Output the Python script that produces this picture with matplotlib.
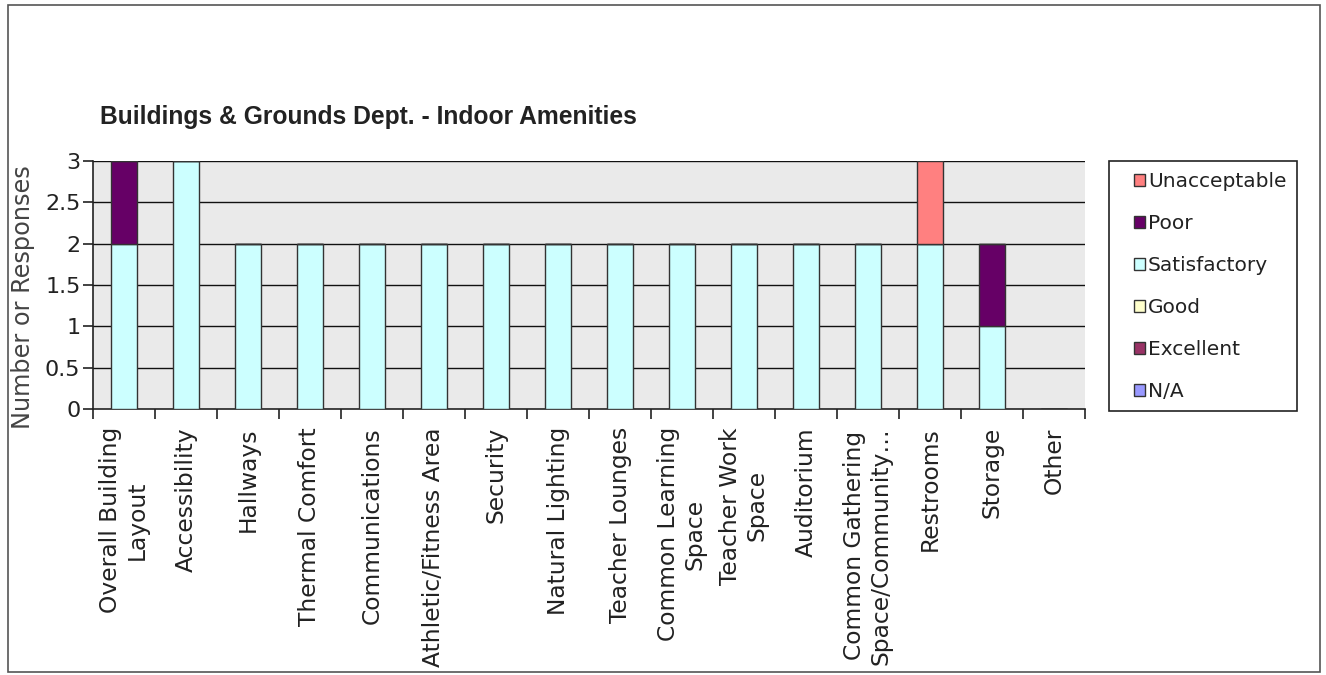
import matplotlib
matplotlib.use("Agg")
import matplotlib.pyplot as plt
import numpy as np
from matplotlib.patches import Rectangle

categories = ["Overall Building\nLayout", "Accessibility", "Hallways", "Thermal Comfort",
              "Communications", "Athletic/Fitness Area", "Security", "Natural Lighting",
              "Teacher Lounges", "Common Learning\nSpace", "Teacher Work\nSpace", "Auditorium",
              "Common Gathering\nSpace/Community…", "Restrooms", "Storage", "Other"]

na           = [0, 0, 0, 0, 0, 0, 0, 0, 0, 0, 0, 0, 0, 0, 0, 0]
excellent    = [0, 0, 0, 0, 0, 0, 0, 0, 0, 0, 0, 0, 0, 0, 0, 0]
good         = [0, 0, 0, 0, 0, 0, 0, 0, 0, 0, 0, 0, 0, 0, 0, 0]
satisfactory = [2, 3, 2, 2, 2, 2, 2, 2, 2, 2, 2, 2, 2, 2, 1, 0]
poor         = [1, 0, 0, 0, 0, 0, 0, 0, 0, 0, 0, 0, 0, 0, 1, 0]
unacceptable = [0, 0, 0, 0, 0, 0, 0, 0, 0, 0, 0, 0, 0, 1, 0, 0]

series_names = ["N/A", "Excellent", "Good", "Satisfactory", "Poor", "Unacceptable"]
series_vals = [na, excellent, good, satisfactory, poor, unacceptable]
colors = ["#9999FF", "#993366", "#FFFFCC", "#CCFFFF", "#660066", "#FF8080"]

yticks = [0, 0.5, 1, 1.5, 2, 2.5, 3]
ytick_labels = ["0", "0.5", "1", "1.5", "2", "2.5", "3"]

W, H = 1326, 675
fig = plt.figure(figsize=(W / 100, H / 100), dpi=100)
ax = fig.add_axes([93 / W, 1 - 409 / H, (1085 - 93) / W, (409 - 161) / H])
ax.set_facecolor("#EAEAEA")

x = np.arange(len(categories))
bottom = np.zeros(len(categories))
handles = []
for name, vals, c in zip(series_names, series_vals, colors):
    v = np.array(vals, dtype=float)
    b = ax.bar(x, v, width=0.42, bottom=bottom, color=c, edgecolor="#333333",
               linewidth=1.0, label=name, zorder=3)
    handles.append(b)
    bottom += v

ax.set_xlim(-0.5, len(categories) - 0.5)
ax.set_ylim(0, 3)
ax.set_yticks(yticks)
ax.set_yticklabels(ytick_labels)
for yv in yticks[1:]:
    ax.axhline(yv, color="#111111", linewidth=1.0, zorder=1)

ax.set_xticks(x)
ax.set_xticklabels(categories, rotation=90, ha="center", va="top",
                   multialignment="center")
ax.tick_params(axis="x", which="major", length=0, pad=13, labelsize=16.8,
               labelcolor="#222222")
ax.set_xticks(np.arange(-0.5, len(categories), 1.0), minor=True)
ax.tick_params(axis="x", which="minor", length=7, width=1.2, direction="out", color="#222222")
ax.tick_params(axis="y", length=7, width=1.2, direction="out", labelsize=16,
               labelcolor="#222222", pad=2, color="#222222")

for s in ["top", "right"]:
    ax.spines[s].set_visible(False)
for s in ["left", "bottom"]:
    ax.spines[s].set_color("#222222")
    ax.spines[s].set_linewidth(1.2)

fig.text(100 / W, 1 - 117 / H, "Buildings & Grounds Dept. - Indoor Amenities",
         fontsize=17.7, fontweight="bold", family="Liberation Sans", color="#222222",
         ha="left", va="center")

fig.text(23 / W, 1 - 297 / H, "Number or Responses", rotation=90, fontsize=17.3,
         color="#444444", ha="center", va="center")

leg = fig.legend(handles[::-1], series_names[::-1], loc="upper left",
                 bbox_to_anchor=(1134 / W, 1 - 172 / H), bbox_transform=fig.transFigure,
                 fontsize=14.5, frameon=False,
                 handlelength=0.55, handleheight=0.55, handletextpad=0.15,
                 labelspacing=1.14, borderpad=0, borderaxespad=0)
for t in leg.get_texts():
    t.set_color("#222222")

fig.patches.append(Rectangle((1109 / W, 1 - 411 / H), (1297 - 1109) / W, (411 - 161) / H,
                             transform=fig.transFigure, fill=False,
                             edgecolor="#222222", linewidth=1.2))

fig.patches.append(Rectangle((8 / W, 3 / H), (1320 - 8) / W, (670 - 3) / H,
                             transform=fig.transFigure, fill=False,
                             edgecolor="#555555", linewidth=1.2))

fig.savefig("out.png", dpi=100)
